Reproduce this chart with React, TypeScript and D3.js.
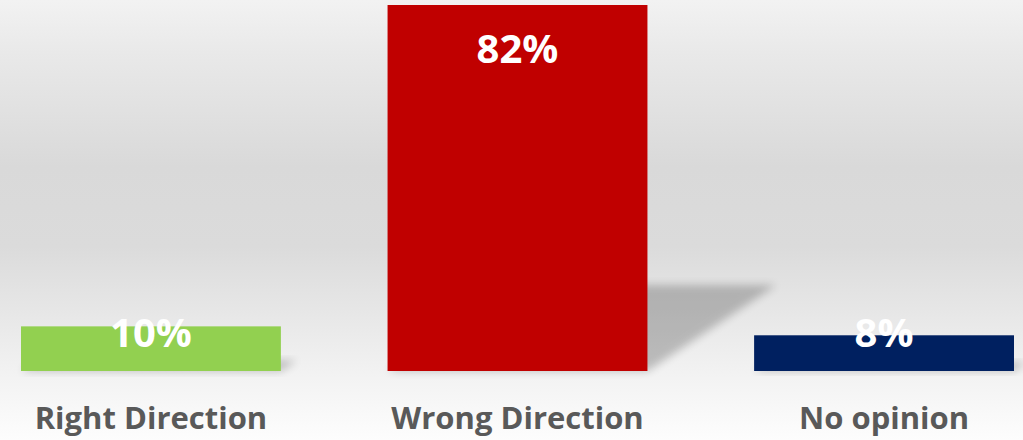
import React from 'react';
import * as d3 from 'd3';

// Chart data
const categories = ['Right Direction', 'Wrong Direction', 'No opinion'];
const values = [10, 82, 8];
const barColors = ['#92d050', '#c00000', '#002060'];

const WIDTH = 1023;
const HEIGHT = 440;

export default function App() {
  const baseline = 371;
  const top = 5;

  const x = d3.scaleBand<string>()
    .domain(categories)
    .range([21, 1014])
    .paddingInner(0.291)
    .paddingOuter(0);

  const y = d3.scaleLinear()
    .domain([0, 82])
    .range([baseline, top]);

  // perspective shadow: flatten and lean to the right
  const shadowScale = 0.235;
  const shadowLean = 0.352;
  const shadowPath = (cat: string, v: number) => {
    const x0 = x(cat)!;
    const x1 = x0 + x.bandwidth();
    const h = baseline - y(v);
    const ty = baseline - h * shadowScale;
    const dx = h * shadowLean;
    return `M${x0},${baseline}L${x1},${baseline}L${x1 + dx},${ty}L${x0 + dx},${ty}Z`;
  };

  const font = '"Open Sans", "Noto Sans", Arial, sans-serif';

  return (
    <div style={{ position: 'fixed', left: 0, top: 0 }}>
      <svg width={WIDTH} height={HEIGHT} style={{ display: 'block' }}>
        <defs>
          <linearGradient id="bg" x1="0" y1="0" x2="0" y2="1">
            <stop offset="0%" stopColor="#f2f2f2" />
            <stop offset="12%" stopColor="#e9e9e9" />
            <stop offset="38%" stopColor="#d9d9d9" />
            <stop offset="56%" stopColor="#dbdbdb" />
            <stop offset="70%" stopColor="#e6e6e6" />
            <stop offset="86%" stopColor="#f3f3f3" />
            <stop offset="100%" stopColor="#fdfdfd" />
          </linearGradient>
          <filter id="blur" x="-20%" y="-50%" width="140%" height="200%">
            <feGaussianBlur stdDeviation="4" />
          </filter>
        </defs>

        <rect x={0} y={0} width={WIDTH} height={HEIGHT} fill="url(#bg)" />

        {/* shadows */}
        {categories.map((c, i) => (
          <path
            key={'s' + c}
            d={shadowPath(c, values[i])}
            fill="#000"
            opacity={0.22}
            filter="url(#blur)"
          />
        ))}

        {/* bars */}
        {categories.map((c, i) => (
          <rect
            key={'b' + c}
            x={x(c)}
            y={y(values[i])}
            width={x.bandwidth()}
            height={baseline - y(values[i])}
            fill={barColors[i]}
          />
        ))}

        {/* value labels */}
        {categories.map((c, i) => (
          <text
            key={'v' + c}
            x={x(c)! + x.bandwidth() / 2}
            y={Math.min(y(values[i]) + 58, baseline - 24)}
            textAnchor="middle"
            fill="#ffffff"
            fontFamily={font}
            fontWeight={700}
            fontSize={40}
          >
            {values[i]}%
          </text>
        ))}

        {/* category labels */}
        {categories.map((c) => (
          <text
            key={'c' + c}
            x={x(c)! + x.bandwidth() / 2}
            y={429}
            textAnchor="middle"
            fill="#595959"
            fontFamily={font}
            fontWeight={700}
            fontSize={31}
          >
            {c}
          </text>
        ))}
      </svg>
    </div>
  );
}
